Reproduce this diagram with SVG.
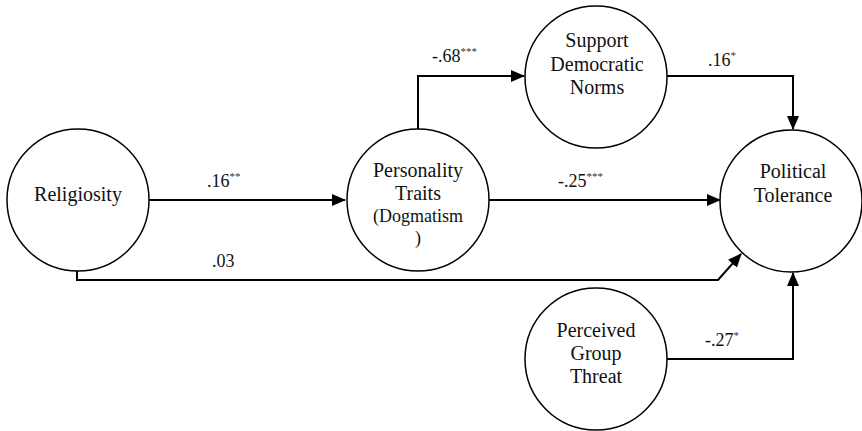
<svg xmlns="http://www.w3.org/2000/svg" width="862" height="431" viewBox="0 0 862 431">
<style>
.node{fill:#fff;stroke:#000;stroke-width:1.5}
.t{font-family:"Liberation Serif","Times New Roman",serif;font-size:20px;fill:#111;text-anchor:middle}
.lbl{font-family:"Liberation Serif","Times New Roman",serif;font-size:18px;fill:#111}
.sup{font-size:11px;fill:#333}
.c{fill:none;stroke:#000;stroke-width:2}
</style>
<defs>
<marker id="ah" markerWidth="14" markerHeight="12" refX="13" refY="6" orient="auto" markerUnits="userSpaceOnUse">
<path d="M0,0 L14,6 L0,12 Z" fill="#000"/>
</marker>
</defs>
<g id="connectors">
<path class="c" d="M149,200 L345,200" marker-end="url(#ah)"/>
<path class="c" d="M489,200 L720,200" marker-end="url(#ah)"/>
<path class="c" d="M418,129 L418,76 L524,76" marker-end="url(#ah)"/>
<path class="c" d="M667,76 L793,76 L793,129" marker-end="url(#ah)"/>
<path class="c" d="M77,271 L77,280 L718,280 L741,254" marker-end="url(#ah)"/>
<path class="c" d="M667,359 L793,359 L793,273" marker-end="url(#ah)"/>
</g>
<g id="labels">
<text class="lbl" x="207" y="187">.16<tspan class="sup" dy="-7">**</tspan></text>
<text class="lbl" x="558" y="187">-.25<tspan class="sup" dy="-7">***</tspan></text>
<text class="lbl" x="432" y="62">-.68<tspan class="sup" dy="-7">***</tspan></text>
<text class="lbl" x="708" y="66">.16<tspan class="sup" dy="-7">*</tspan></text>
<text class="lbl" x="212" y="267">.03</text>
<text class="lbl" x="705" y="346">-.27<tspan class="sup" dy="-7">*</tspan></text>
</g>
<g id="religiosity">
<circle class="node" cx="78" cy="200" r="71"/>
<text class="t" x="78" y="201">Religiosity</text>
</g>
<g id="personality">
<circle class="node" cx="418" cy="200" r="71"/>
<text class="t" x="418" y="177">Personality</text>
<text class="t" x="418" y="200">Traits</text>
<text class="t" x="418" y="222" style="font-size:18px">(Dogmatism</text>
<text class="t" x="418" y="244" style="font-size:18px">)</text>
</g>
<g id="support">
<circle class="node" cx="596" cy="77" r="71"/>
<text class="t" x="597" y="47">Support</text>
<text class="t" x="597" y="71">Democratic</text>
<text class="t" x="597" y="94">Norms</text>
</g>
<g id="tolerance">
<circle class="node" cx="791" cy="201" r="71"/>
<text class="t" x="793" y="178">Political</text>
<text class="t" x="793" y="202">Tolerance</text>
</g>
<g id="threat">
<circle class="node" cx="596" cy="359" r="71"/>
<text class="t" x="596" y="337">Perceived</text>
<text class="t" x="596" y="360">Group</text>
<text class="t" x="596" y="383">Threat</text>
</g>
</svg>
